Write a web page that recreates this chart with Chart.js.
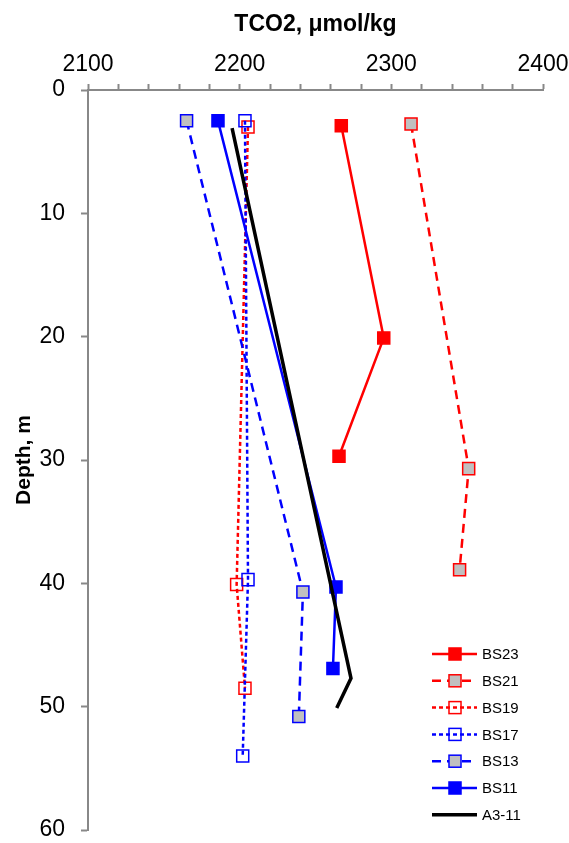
<!DOCTYPE html>
<html>
<head>
<meta charset="utf-8">
<script src="https://cdn.jsdelivr.net/npm/chart.js@4.4.0/dist/chart.umd.min.js"></script>
<style>
html, body { margin: 0; padding: 0; background: #fff; }
</style>
</head>
<body>
<canvas id="chart" width="569" height="843"></canvas>
<script>
// 값
var bs23Tco2 = [2267, 2295, 2265.5];
var bs23Depth = [2.9, 20.1, 29.7];
var bs21Tco2 = [2313, 2351, 2345];
var bs21Depth = [2.75, 30.7, 38.9];
var bs19Tco2 = [2205.5, 2198, 2203.5];
var bs19Depth = [3.0, 40.1, 48.5];
var bs17Tco2 = [2203.5, 2205.5, 2202];
var bs17Depth = [2.5, 39.7, 54.0];
var bs13Tco2 = [2165, 2241.7, 2239];
var bs13Depth = [2.5, 40.7, 50.8];
var bs11Tco2 = [2185.7, 2263.5, 2261.5];
var bs11Depth = [2.5, 40.3, 46.9];
var a311Tco2 = [2195, 2273.4, 2264];
var a311Depth = [3.1, 47.7, 50.1];

var seriesNames = ['BS23', 'BS21', 'BS19', 'BS17', 'BS13', 'BS11', 'A3-11'];
var xTicks = [2100, 2200, 2300, 2400];
var yTicks = [0, 10, 20, 30, 40, 50, 60];

var FONT = '"Liberation Sans", Arial, sans-serif';

function pts(xs, ys) {
	var out = [];
	for (var i = 0; i < xs.length; i++) {
		out.push({ x: xs[i], y: ys[i] });
	}
	return out;
}

function series(name, xs, ys, color, dash, fill, width, radius, order) {
	return {
		label: name,
		data: pts(xs, ys),
		showLine: true,
		borderColor: color,
		borderWidth: width,
		borderDash: dash,
		pointStyle: 'rect',
		pointRadius: radius,
		pointHoverRadius: radius,
		pointBackgroundColor: fill,
		pointBorderColor: color,
		pointBorderWidth: 1.5,
		order: order
	};
}

var datasets = [
	series(seriesNames[0], bs23Tco2, bs23Depth, '#ff0000', [], '#ff0000', 2.5, 8.5, 6),
	series(seriesNames[1], bs21Tco2, bs21Depth, '#ff0000', [9, 6], '#c0c0c0', 2.5, 8.5, 5),
	series(seriesNames[2], bs19Tco2, bs19Depth, '#ff0000', [4, 3], 'rgba(255,255,255,0)', 2.5, 8.5, 4),
	series(seriesNames[3], bs17Tco2, bs17Depth, '#0000ff', [4, 3], 'rgba(255,255,255,0)', 2.5, 8.5, 3),
	series(seriesNames[4], bs13Tco2, bs13Depth, '#0000ff', [9, 6], '#c0c0c0', 2.5, 8.5, 2),
	series(seriesNames[5], bs11Tco2, bs11Depth, '#0000ff', [], '#0000ff', 2.5, 8.5, 1),
	series(seriesNames[6], a311Tco2, a311Depth, '#000000', [], '#000000', 3.5, 0, 0)
];

// 차트 안쪽 범례
var boxLegend = {
	id: 'boxLegend',
	afterDraw: function(chart) {
		var ctx = chart.ctx;
		var x0 = 432, x1 = 477, mx = 455, tx = 482;
		var y0 = 654, step = 26.8;
		ctx.save();
		for (var i = 0; i < datasets.length; i++) {
			var ds = datasets[i];
			var y = y0 + i * step;
			ctx.beginPath();
			ctx.setLineDash(ds.borderDash);
			ctx.lineWidth = ds.borderWidth;
			ctx.strokeStyle = ds.borderColor;
			ctx.moveTo(x0, y);
			ctx.lineTo(x1, y);
			ctx.stroke();
			ctx.setLineDash([]);
			if (ds.pointRadius > 0) {
				var s = ds.pointRadius * Math.SQRT1_2;
				ctx.fillStyle = ds.pointBackgroundColor;
				ctx.fillRect(mx - s, y - s, 2 * s, 2 * s);
				ctx.lineWidth = ds.pointBorderWidth;
				ctx.strokeStyle = ds.pointBorderColor;
				ctx.strokeRect(mx - s, y - s, 2 * s, 2 * s);
			}
			ctx.fillStyle = '#000';
			ctx.font = '15px ' + FONT;
			ctx.textAlign = 'left';
			ctx.textBaseline = 'middle';
			ctx.fillText(ds.label, tx, y + 1);
		}
		ctx.restore();
	}
};

var chart = new Chart(document.getElementById('chart'), {
	type: 'scatter',
	data: { datasets: datasets },
	options: {
		responsive: false,
		animation: false,
		layout: { padding: { left: 0, top: 0, right: 26, bottom: 13 } },
		plugins: {
			legend: { display: false },
			tooltip: { enabled: false }
		},
		scales: {
			x: {
				type: 'linear',
				position: 'top',
				min: 2100,
				max: 2400,
				afterFit: function(scale) {
					scale.height = 90;
					scale.paddingLeft = 0;
					scale.paddingRight = 0;
				},
				ticks: {
					stepSize: 20,
					autoSkip: false,
					maxRotation: 0,
					padding: 6,
					color: '#000',
					font: { family: FONT, size: 23 },
					callback: function(v) { return xTicks.indexOf(v) >= 0 ? String(v) : ''; }
				},
				grid: {
					drawOnChartArea: false,
					tickLength: 6,
					tickColor: '#888',
					tickWidth: 2
				},
				border: { color: '#888', width: 2 },
				title: {
					display: true,
					text: 'TCO2, μmol/kg',
					color: '#000',
					font: { family: FONT, size: 23, weight: 'bold' },
					padding: { top: 11, bottom: 0 }
				}
			},
			y: {
				type: 'linear',
				reverse: true,
				min: 0,
				max: 60,
				afterFit: function(scale) {
					scale.width = 88;
					scale.paddingTop = 0;
					scale.paddingBottom = 0;
				},
				afterBuildTicks: function(scale) {
					scale.ticks = yTicks.map(function(v) { return { value: v }; });
				},
				ticks: {
					padding: 16,
					color: '#000',
					font: { family: FONT, size: 23 }
				},
				grid: {
					drawOnChartArea: false,
					tickLength: 7,
					tickColor: '#888',
					tickWidth: 2
				},
				border: { color: '#888', width: 2 },
				title: {
					display: true,
					text: 'Depth, m',
					color: '#000',
					font: { family: FONT, size: 21, weight: 'bold' },
					padding: { top: 12, bottom: 0 }
				}
			}
		}
	},
	plugins: [boxLegend]
});
</script>
</body>
</html>
